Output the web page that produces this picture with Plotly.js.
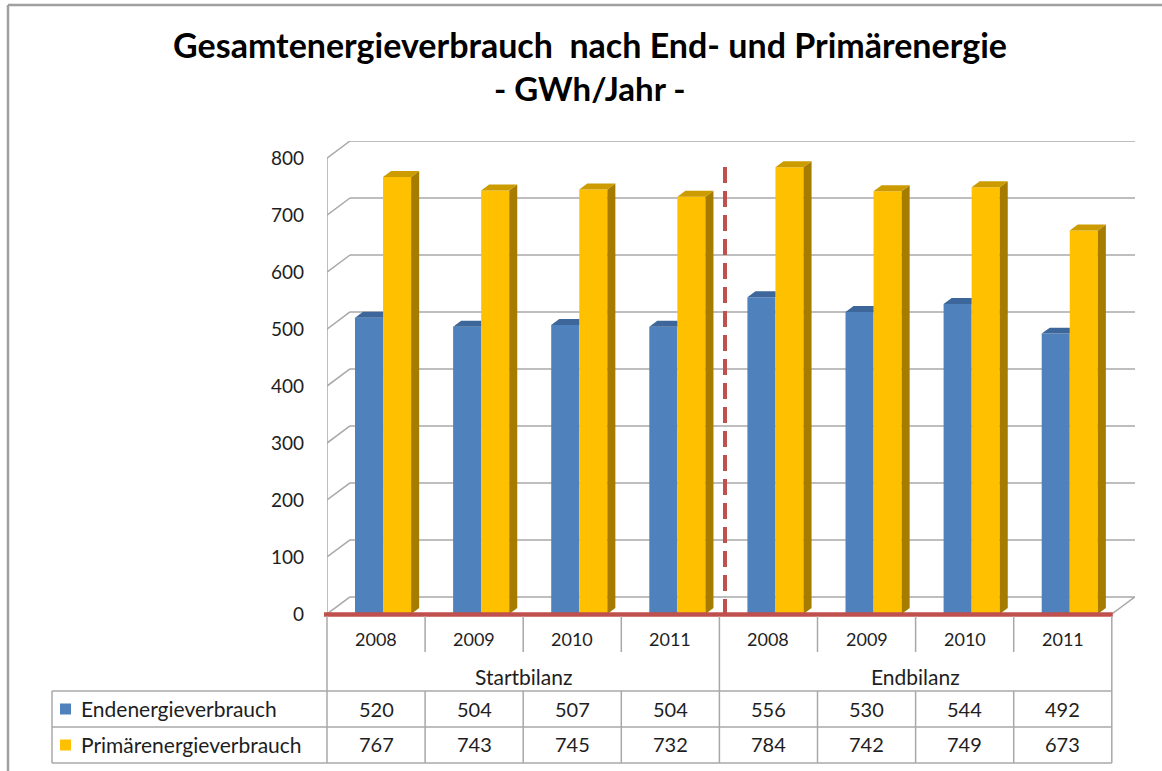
<!DOCTYPE html>
<html>
<head>
<meta charset="utf-8">
<script src="https://cdn.plot.ly/plotly-3.0.1.min.js"></script>
<style>html,body{margin:0;padding:0;background:#fff;}#chart{width:1162px;height:771px;}</style>
</head>
<body>
<div id="chart"></div>
<script>
// ---- data ----
const years = ['2008','2009','2010','2011','2008','2009','2010','2011'];
const groups = ['Startbilanz','Endbilanz'];
const seriesNames = ['Endenergieverbrauch','Primärenergieverbrauch'];
const endenergie = [520, 504, 507, 504, 556, 530, 544, 492];
const primaer = [767, 743, 745, 732, 784, 742, 749, 673];
const yTicks = [0, 100, 200, 300, 400, 500, 600, 700, 800];
const titleLine1 = 'Gesamtenergieverbrauch\u00a0 nach End- und Primärenergie';
const titleLine2 = '- GWh/Jahr -';

// ---- geometry / style ----
const W = 1162, H = 771;
const L = 327, R = 1135, T = 141, B = 614;
const FONT = 'Lato, "Open Sans", sans-serif';
const TXT = '#1e1e1e';
const GRID = '#a8a8a8';
const RED = '#C0504D';
const blue = {front:'#4F81BD', top:'#3D679A'};
const gold = {front:'#FFC000', top:'#CB9B00', side:'#A67C00'};
const wallDX = 0.2345, wallDY = 30;     // back-wall depth offset (x units, y units)
const barW = 0.286, barDX = 0.082, barDY = 10.5;
const colPx = 98.1;
const xMax = -0.5 + (R - L) / colPx;
const yMax = 830;

const px = p => (p - L) / (R - L);          // pixel -> paper x
const py = p => (B - p) / (B - T);          // pixel -> paper y
const xToPx = x => L + (x + 0.5) * colPx;   // data x -> pixel

const idx = years.map((_, i) => i);
const xBlue = idx.map(i => i - 0.2146 + barW / 2);
const xGold = idx.map(i => i - 0.2146 + barW + barW / 2);

const traces = [
  {type:'bar', name:seriesNames[0], x:xBlue, y:endenergie, width:barW,
   marker:{color:blue.front, line:{width:0}}, hoverinfo:'skip', showlegend:false},
  {type:'bar', name:seriesNames[1], x:xGold, y:primaer, width:barW,
   marker:{color:gold.front, line:{width:0}}, hoverinfo:'skip', showlegend:false}
];

const shapes = [];
const line = (x0,y0,x1,y1,opt) => Object.assign({type:'line', x0, y0, x1, y1,
  xref:'x', yref:'y', layer:'below', line:{color:GRID, width:1.5}}, opt||{});

// back wall gridlines + left wall slants
yTicks.forEach(v => {
  shapes.push(line(-0.5 + wallDX, v + wallDY, xMax, v + wallDY));
  shapes.push(line(-0.5, v, -0.5 + wallDX, v + wallDY));
});
shapes.push(line(-0.5, 0, -0.5, yTicks[yTicks.length-1]));
shapes.push(line(years.length - 0.5, 0, xMax, wallDY));

// 3D faces of bars
const path = pts => 'M' + pts.map(p => p[0] + ',' + p[1]).join(' L') + ' Z';
idx.forEach(i => {
  const b0 = xBlue[i] - barW/2, b1 = xBlue[i] + barW/2, bv = endenergie[i];
  shapes.push({type:'path', xref:'x', yref:'y', layer:'above', line:{width:0},
    fillcolor:blue.top, path:path([[b0,bv],[b1,bv],[b1,bv+barDY],[b0+barDX,bv+barDY]])});
  const g0 = xGold[i] - barW/2, g1 = xGold[i] + barW/2, gv = primaer[i];
  shapes.push({type:'path', xref:'x', yref:'y', layer:'above', line:{width:0},
    fillcolor:gold.side, path:path([[g1,0],[g1,gv],[g1+barDX,gv+barDY],[g1+barDX,barDY]])});
  shapes.push({type:'path', xref:'x', yref:'y', layer:'above', line:{width:0},
    fillcolor:gold.top, path:path([[g0,gv],[g1,gv],[g1+barDX,gv+barDY],[g0+barDX,gv+barDY]])});
});

// red base line and dashed separator (paper refs so they are not clipped)
shapes.push({type:'line', xref:'paper', yref:'paper', layer:'above',
  x0:px(324), x1:px(xToPx(years.length - 0.5) + 1), y0:py(B + 0.5), y1:py(B + 0.5),
  line:{color:RED, width:4.5}});
shapes.push({type:'line', xref:'paper', yref:'paper', layer:'above',
  x0:px(725), x1:px(725), y0:py(B + 1), y1:py(162),
  line:{color:RED, width:4, dash:'16px,8px'}});

// data table lines (paper refs)
const tl = (x0,y0,x1,y1) => ({type:'line', xref:'paper', yref:'paper',
  x0:px(x0), y0:py(y0), x1:px(x1), y1:py(y1), layer:'above', line:{color:GRID, width:1.5}});
const rowTop = 691, rowMid = 727, rowBot = 763, yearBot = 652;
const tableLeft = 52;
for (let k = 0; k <= years.length; k++) {
  const xb = xToPx(k - 0.5);
  const full = (k === 0 || k === 4 || k === years.length);
  shapes.push(tl(xb, B + 2, xb, full ? rowTop : yearBot));
  shapes.push(tl(xb, rowTop, xb, rowBot));
}
const tableRight = xToPx(years.length - 0.5);
[rowTop, rowMid, rowBot].forEach(r => shapes.push(tl(tableLeft, r, tableRight, r)));
shapes.push(tl(tableLeft, rowTop, tableLeft, rowBot));
// legend keys
[[blue.front, (rowTop+rowMid)/2], [gold.front, (rowMid+rowBot)/2]].forEach(([c, yc]) => {
  shapes.push({type:'rect', xref:'paper', yref:'paper', x0:px(60), x1:px(71), y0:py(yc-5.5), y1:py(yc+5.5),
    fillcolor:c, line:{width:0}, layer:'above'});
});
// outer frame
shapes.push({type:'line', xref:'paper', yref:'paper', x0:px(8), x1:px(W+5), y0:py(5), y1:py(5),
  line:{color:'#a0a0a0', width:2.5}});
shapes.push({type:'line', xref:'paper', yref:'paper', x0:px(8), x1:px(8), y0:py(5), y1:py(H+5),
  line:{color:'#a0a0a0', width:2.5}});

// annotations (table text)
const annotations = [];
const ann = (text, x, y, xref, size, xanchor) => ({text, x, y, xref, yref:'paper', showarrow:false,
  xanchor:xanchor||'center', yanchor:'middle', font:{family:FONT, size:size, color:TXT}});
years.forEach((yr, i) => annotations.push(ann(yr, i, py(639), 'x', 18)));
groups.forEach((g, gi) => annotations.push(ann(g, gi*4 + 1.5, py(676), 'x', 21)));
endenergie.forEach((v, i) => annotations.push(ann(String(v), i, py(709), 'x', 20)));
primaer.forEach((v, i) => annotations.push(ann(String(v), i, py(744), 'x', 20)));
annotations.push(ann(seriesNames[0], px(79), py(708), 'paper', 21, 'left'));
annotations.push(ann(seriesNames[1], px(79), py(744), 'paper', 21, 'left'));
annotations.push({text:titleLine2, x:px(590), y:py(88), xref:'paper', yref:'paper', showarrow:false,
  xanchor:'center', yanchor:'middle', font:{family:FONT, size:33, color:'#000', weight:700}});

const layout = {
  width:W, height:H,
  margin:{l:L, r:W-R, t:T, b:H-B, pad:0},
  paper_bgcolor:'#ffffff', plot_bgcolor:'rgba(0,0,0,0)',
  title:{text:titleLine1, x:590/W, xref:'container', xanchor:'center',
    y:1 - 46/H, yref:'container', yanchor:'middle',
    font:{family:FONT, size:34, color:'#000', weight:700}},
  barmode:'overlay',
  showlegend:false,
  xaxis:{range:[-0.5, xMax], showticklabels:false, showgrid:false, zeroline:false, showline:false, ticks:'', fixedrange:true},
  yaxis:{range:[0, yMax], tickvals:yTicks, ticktext:yTicks.map(String), showgrid:false, zeroline:false,
    showline:false, ticks:'', ticklabelstandoff:22, tickfont:{family:FONT, size:19, color:TXT}, fixedrange:true},
  shapes, annotations
};

Plotly.newPlot('chart', traces, layout, {staticPlot:true, displayModeBar:false});
</script>
</body>
</html>
